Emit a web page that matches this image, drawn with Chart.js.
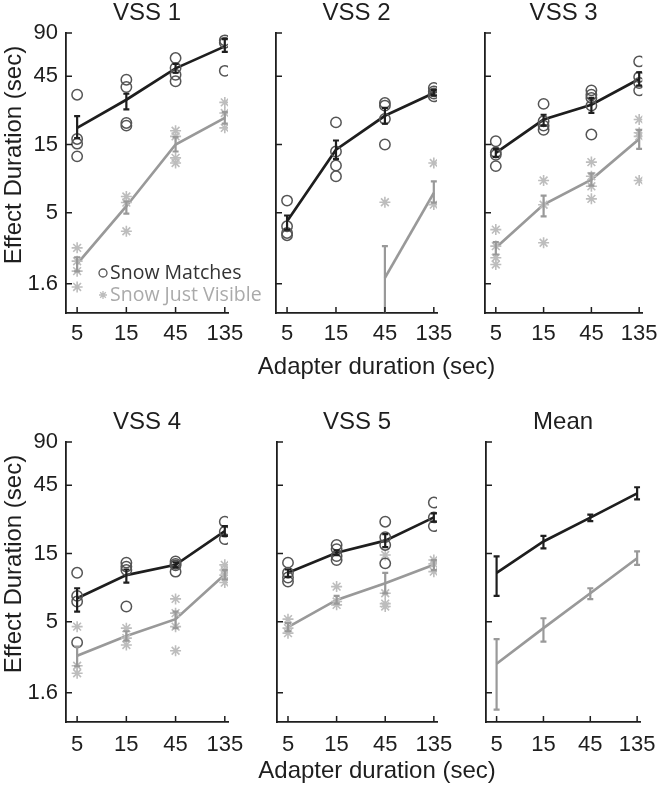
<!DOCTYPE html>
<html>
<head>
<meta charset="utf-8">
<script src="https://cdn.jsdelivr.net/npm/chart.js@4.4.0/dist/chart.umd.min.js"></script>
<style>
  body { margin: 0; background: #fff; }
  #fig { position: relative; width: 666px; height: 786px; overflow: hidden; }
  #fig canvas { position: absolute; }
</style>
</head>
<body>
<div id="fig"></div>
<script>
// duraciones del adaptador (eje x) y marcas
const durations = [5, 15, 45, 135];
const xTicks = [5, 15, 45, 135];
const yTicks = [1.6, 5, 15, 45, 90];
const panelTitles = ['VSS 1', 'VSS 2', 'VSS 3', 'VSS 4', 'VSS 5', 'Mean'];
const seriesNames = ['Snow Matches', 'Snow Just Visible'];

// VSS 1
const vss1MatchPts = [[33.4, 16.4, 15.2, 12.4], [42.5, 37.8, 21.2, 20.3], [60.2, 51.3, 46.0, 41.4], [80, 77, 49]];
const vss1MatchMean = [19.6, 30.8, 51, 72.6];
const vss1MatchLo = [16.6, 26.4, 47.5, 66.5];
const vss1MatchHi = [23.7, 33.9, 54.7, 81.5];
const vss1VisPts = [[2.85, 2.3, 1.96, 1.52], [6.5, 5.9, 3.72], [18.7, 17.1, 12.1, 11.15], [29.5, 24.9, 19.6]];
const vss1VisMean = [2.2, 5.56, 15.0, 23.0];
const vss1VisLo = [1.95, 4.94, 13.4, 21.0];
const vss1VisHi = [2.45, 6.0, 16.9, 25.2];

// VSS 2
const vss2MatchPts = [[6.09, 4.03, 3.62, 3.49], [21.4, 13.4, 10.7, 9.0], [29.2, 28.0, 22.6, 15.0], [37.2, 35.2, 34, 32.5]];
const vss2MatchMean = [4.37, 13.8, 23.8, 34.3];
const vss2MatchLo = [3.82, 11.9, 21.0, 33.0];
const vss2MatchHi = [4.79, 16.0, 27.0, 36.0];
const vss2VisPts = [[], [], [5.93], [11.15, 5.71]];
const vss2VisMean = [null, null, 1.76, 6.89];
const vss2VisLo = [null, null, 0.5, 5.9];
const vss2VisHi = [null, null, 2.93, 8.3];

// VSS 3
const vss3MatchPts = [[15.8, 13.2, 12.7, 10.6], [28.8, 21.8, 20.3, 19.0], [35.8, 33.4, 31.7, 28.0, 17.6], [57.0, 44.4, 40.3, 35.8]];
const vss3MatchMean = [13.1, 22.4, 28.4, 43.0];
const vss3MatchLo = [12.3, 20.3, 24.9, 38.6];
const vss3MatchHi = [14.0, 24.2, 31.7, 47.8];
const vss3VisPts = [[3.82, 2.93, 2.43, 2.18], [8.4, 5.7, 3.09], [11.3, 9.0, 7.66, 6.26], [22.4, 18.1, 17.1, 8.4]];
const vss3VisMean = [2.85, 5.71, 8.53, 16.4];
const vss3VisLo = [2.56, 4.73, 7.75, 14.0];
const vss3VisHi = [3.12, 6.6, 9.44, 19.0];

// VSS 4
const vss4MatchPts = [[11.0, 7.59, 6.93, 3.59], [12.95, 12.15, 11.5, 6.4], [13.2, 12.7, 12.4, 11.2], [25.0, 21.3, 18.9]];
const vss4MatchMean = [7.31, 10.6, 12.5, 21.5];
const vss4MatchLo = [5.9, 9.4, 12.0, 19.9];
const vss4MatchHi = [8.58, 11.6, 13.0, 23.3];
const vss4VisPts = [[4.63, 2.47, 2.19], [4.52, 3.85, 3.45], [7.23, 5.75, 4.63, 3.14], [12.5, 11.5, 10.6, 9.4]];
const vss4VisMean = [2.9, 3.99, 5.22, 10.7];
const vss4VisLo = [2.45, 3.7, 4.52, 9.9];
const vss4VisHi = [3.36, 4.3, 5.9, 11.5];

// VSS 5
const vss5MatchPts = [[12.95, 11.0, 10.2, 9.55], [17.2, 16.1, 14.4, 13.5], [25.0, 19.5, 17.2, 12.8], [34.0, 26.8, 23.3]];
const vss5MatchMean = [11.0, 15.2, 18.45, 26.8];
const vss5MatchLo = [10.3, 14.6, 16.6, 25.0];
const vss5MatchHi = [11.6, 15.8, 20.5, 28.6];
const vss5VisPts = [[5.22, 4.52, 4.17], [8.81, 6.93, 6.57], [14.65, 7.92, 6.7, 6.4], [13.5, 12.7, 11.2]];
const vss5VisMean = [4.59, 7.11, 9.3, 12.5];
const vss5VisLo = [4.3, 6.7, 7.9, 11.5];
const vss5VisHi = [4.9, 7.6, 11.0, 13.5];

// Media de todos
const meanMatch = [11.0, 18.2, 26.7, 39.4];
const meanMatchLo = [7.59, 16.3, 25.2, 35.8];
const meanMatchHi = [14.3, 19.9, 28.0, 43.5];
const meanVis = [2.55, 4.52, 7.92, 13.9];
const meanVisLo = [1.22, 3.64, 7.2, 12.5];
const meanVisHi = [3.79, 5.3, 8.58, 15.5];

const FONT = '"Liberation Sans", Arial, sans-serif';
const INK = '#1e1e1e';

// posicion de cada panel (canvas y area del grafico), en px de la pagina
const boxes = [
  { cl: 0,   ct: 0,   cw: 272, ch: 393, al: 66,  ar: 228, at: 33,  ab: 313, tc: 13.5 },
  { cl: 236, ct: 0,   cw: 264, ch: 393, al: 276, ar: 437, at: 33,  ab: 313, tc: 13.5 },
  { cl: 445, ct: 0,   cw: 221, ch: 393, al: 485, ar: 647, at: 33,  ab: 313, tc: 13.5 },
  { cl: 0,   ct: 393, cw: 272, ch: 393, al: 66,  ar: 228, at: 442, ab: 722, tc: 422 },
  { cl: 236, ct: 393, cw: 264, ch: 393, al: 277, ar: 437, at: 442, ab: 722, tc: 422 },
  { cl: 445, ct: 393, cw: 221, ch: 393, al: 486, ar: 647, at: 442, ab: 722, tc: 422 }
];

const panels = [
  { pts: [vss1MatchPts, vss1VisPts], mean: [vss1MatchMean, vss1VisMean], lo: [vss1MatchLo, vss1VisLo], hi: [vss1MatchHi, vss1VisHi] },
  { pts: [vss2MatchPts, vss2VisPts], mean: [vss2MatchMean, vss2VisMean], lo: [vss2MatchLo, vss2VisLo], hi: [vss2MatchHi, vss2VisHi] },
  { pts: [vss3MatchPts, vss3VisPts], mean: [vss3MatchMean, vss3VisMean], lo: [vss3MatchLo, vss3VisLo], hi: [vss3MatchHi, vss3VisHi] },
  { pts: [vss4MatchPts, vss4VisPts], mean: [vss4MatchMean, vss4VisMean], lo: [vss4MatchLo, vss4VisLo], hi: [vss4MatchHi, vss4VisHi] },
  { pts: [vss5MatchPts, vss5VisPts], mean: [vss5MatchMean, vss5VisMean], lo: [vss5MatchLo, vss5VisLo], hi: [vss5MatchHi, vss5VisHi] },
  { pts: [null, null], mean: [meanMatch, meanVis], lo: [meanMatchLo, meanVisLo], hi: [meanMatchHi, meanVisHi] }
];

// barras de error (verticales con tapas)
const errorBars = {
  id: 'errorBars',
  afterDatasetsDraw(chart) {
    const { ctx, chartArea: a, scales: { x, y } } = chart;
    ctx.save();
    ctx.beginPath();
    ctx.rect(a.left, a.top - 2, a.right - a.left, a.bottom - a.top + 2);
    ctx.clip();
    chart.data.datasets.forEach(ds => {
      if (!ds.errLo) return;
      ctx.strokeStyle = ds.borderColor;
      ctx.lineWidth = 2.2;
      ds.errLo.forEach((lo, i) => {
        const hi = ds.errHi[i];
        if (lo == null || hi == null) return;
        const px = x.getPixelForValue(durations[i]);
        const p1 = y.getPixelForValue(lo), p2 = y.getPixelForValue(hi);
        ctx.beginPath();
        ctx.moveTo(px, p1); ctx.lineTo(px, p2);
        ctx.moveTo(px - 3, p1); ctx.lineTo(px + 3, p1);
        ctx.moveTo(px - 3, p2); ctx.lineTo(px + 3, p2);
        ctx.stroke();
      });
    });
    ctx.restore();
  }
};

// marcas hacia adentro como en matlab
const inwardTicks = {
  id: 'inwardTicks',
  afterDraw(chart) {
    const { ctx, chartArea: a, scales: { x, y } } = chart;
    ctx.save();
    ctx.strokeStyle = INK;
    ctx.lineWidth = 1.5;
    ctx.beginPath();
    x.ticks.forEach(t => {
      const px = x.getPixelForValue(t.value);
      ctx.moveTo(px, a.bottom); ctx.lineTo(px, a.bottom - 6);
    });
    y.ticks.forEach(t => {
      const py = y.getPixelForValue(t.value);
      ctx.moveTo(a.left, py); ctx.lineTo(a.left + 6, py);
    });
    ctx.stroke();
    ctx.restore();
  }
};

// titulos de ejes compartidos
const sideText = {
  id: 'sideText',
  afterDraw(chart, args, opts) {
    const { ctx, chartArea: a } = chart;
    ctx.save();
    ctx.fillStyle = INK;
    ctx.font = '24px ' + FONT;
    ctx.textAlign = 'center';
    ctx.textBaseline = 'middle';
    if (opts.yText) {
      ctx.save();
      ctx.translate(opts.yX, (a.top + a.bottom) / 2 + opts.yShift);
      ctx.rotate(-Math.PI / 2);
      ctx.fillText(opts.yText, 0, 0);
      ctx.restore();
    }
    if (opts.xText) {
      ctx.fillText(opts.xText, (a.left + a.right) / 2 + opts.xShift, a.bottom + opts.xDrop);
    }
    ctx.restore();
  }
};

// leyenda dentro del primer panel
const cornerLegend = {
  id: 'cornerLegend',
  afterDraw(chart, args, opts) {
    if (!opts.show) return;
    const { ctx, chartArea: a } = chart;
    chart.data.datasets.filter(d => d.inLegend).forEach((d, i) => {
      const y = a.bottom - 40 + i * 22;
      ctx.save();
      ctx.strokeStyle = d.borderColor;
      ctx.fillStyle = 'rgba(0,0,0,0)';
      ctx.lineWidth = 1.3;
      Chart.helpers.drawPoint(ctx, { pointStyle: d.pointStyle, radius: 4, borderWidth: 1.3, rotation: 0 }, a.left + 37, y);
      ctx.fillStyle = d.legendColor;
      ctx.font = '19.5px "Open Sans"';
      ctx.textAlign = 'left';
      ctx.textBaseline = 'middle';
      ctx.fillText(d.label, a.left + 44, y);
      ctx.restore();
    });
  }
};

const fig = document.getElementById('fig');

panels.forEach((p, idx) => {
  const b = boxes[idx];
  const cv = document.createElement('canvas');
  cv.width = b.cw; cv.height = b.ch;
  cv.style.left = b.cl + 'px'; cv.style.top = b.ct + 'px';
  fig.appendChild(cv);

  const leftCol = idx % 3 === 0;
  const midCol = idx % 3 === 1;
  const topRow = idx < 3;
  const tPadTop = b.tc - b.ct - 12;
  const tPadBot = b.at - b.ct - 24 - tPadTop;

  const datasets = [];
  // puntos individuales
  if (p.pts[0]) {
    datasets.push({
      label: seriesNames[0], inLegend: true, legendColor: '#333',
      data: p.pts[0].flatMap((vals, i) => vals.map(v => ({ x: durations[i], y: v }))),
      showLine: false, pointStyle: 'circle', pointRadius: 5.2,
      borderColor: '#555', backgroundColor: 'rgba(0,0,0,0)', pointBorderWidth: 1.5
    });
    datasets.push({
      label: seriesNames[1], inLegend: true, legendColor: '#aaa',
      data: p.pts[1].flatMap((vals, i) => vals.map(v => ({ x: durations[i], y: v }))),
      showLine: false, pointStyle: 'star', pointRadius: 5.5,
      borderColor: '#bdbdbd', backgroundColor: 'rgba(0,0,0,0)', pointBorderWidth: 1.6
    });
  }
  // medias con error
  datasets.push({
    label: seriesNames[0] + ' mean',
    data: durations.map((d, i) => ({ x: d, y: p.mean[0][i] })),
    borderColor: INK, borderWidth: 2.7, pointRadius: 0,
    errLo: p.lo[0], errHi: p.hi[0]
  });
  datasets.push({
    label: seriesNames[1] + ' mean',
    data: durations.map((d, i) => ({ x: d, y: p.mean[1][i] })),
    borderColor: '#999', borderWidth: 2.7, pointRadius: 0,
    errLo: p.lo[1], errHi: p.hi[1]
  });

  new Chart(cv, {
    type: 'line',
    data: { datasets: datasets },
    options: {
      responsive: false,
      animation: false,
      layout: { padding: { left: 0, top: 0, right: b.cl + b.cw - b.ar, bottom: 0 } },
      plugins: {
        legend: { display: false },
        tooltip: { enabled: false },
        title: {
          display: true, text: panelTitles[idx], fullSize: false, color: INK,
          font: { family: FONT, size: 24, weight: 'normal', lineHeight: 1 },
          padding: { top: tPadTop, bottom: tPadBot }
        },
        sideText: {
          yText: leftCol ? 'Effect Duration (sec)' : null, yX: 14, yShift: -18,
          xText: midCol ? 'Adapter duration (sec)' : null, xShift: 20, xDrop: topRow ? 54 : 49
        },
        cornerLegend: { show: idx === 0 }
      },
      scales: {
        x: {
          type: 'logarithmic', min: 3.9, max: 145,
          afterBuildTicks: s => { s.ticks = xTicks.map(v => ({ value: v })); },
          afterFit: s => { s.height = b.ct + b.ch - b.ab; },
          grid: { drawOnChartArea: false, drawTicks: false },
          border: { color: INK, width: 1.8 },
          ticks: {
            color: INK, font: { family: FONT, size: 22 }, padding: topRow ? 8 : 10,
            autoSkip: false, maxRotation: 0, callback: v => String(v)
          }
        },
        y: {
          type: 'logarithmic', min: 1, max: 90,
          afterBuildTicks: s => { s.ticks = yTicks.map(v => ({ value: v })); },
          afterFit: s => { s.width = b.al - b.cl; },
          grid: { drawOnChartArea: false, drawTicks: false },
          border: { color: INK, width: 1.8 },
          ticks: {
            display: leftCol, color: INK, font: { family: FONT, size: 22 }, padding: 8,
            callback: v => String(v)
          }
        }
      }
    },
    plugins: [errorBars, inwardTicks, sideText, cornerLegend]
  });
});
</script>
</body>
</html>
